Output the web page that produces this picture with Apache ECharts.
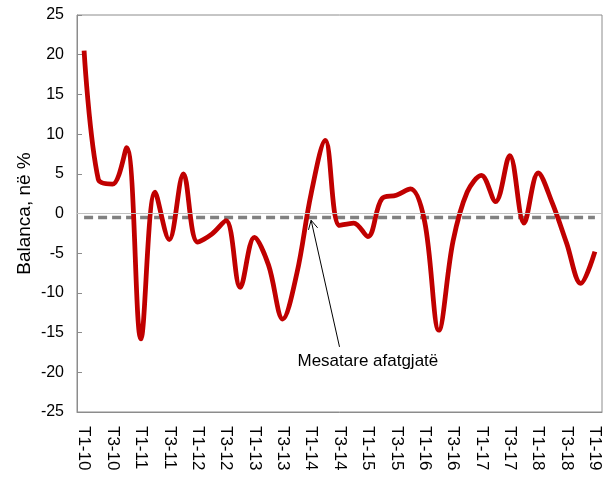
<!DOCTYPE html>
<html>
<head>
<meta charset="utf-8">
<script src="https://cdn.jsdelivr.net/npm/echarts@6/dist/echarts.min.js"></script>
<style>html,body{margin:0;padding:0;background:#fff}#c{width:613px;height:481px}</style>
</head>
<body>
<div id="c"></div>
<script>
var categories = [
  'T1-10','T2-10','T3-10','T4-10',
  'T1-11','T2-11','T3-11','T4-11',
  'T1-12','T2-12','T3-12','T4-12',
  'T1-13','T2-13','T3-13','T4-13',
  'T1-14','T2-14','T3-14','T4-14',
  'T1-15','T2-15','T3-15','T4-15',
  'T1-16','T2-16','T3-16','T4-16',
  'T1-17','T2-17','T3-17','T4-17',
  'T1-18','T2-18','T3-18','T4-18',
  'T1-19'
];
var balanceValues = [
  20.5, 4.3, 3.7, 8.3,
  -15.8, 2.7, -3.3, 5.0,
  -3.6, -2.6, -0.9, -9.3,
  -3.0, -6.5, -13.3, -7.5,
  2.5, 9.2, -1.5, -1.2,
  -2.9, 1.9, 2.3, 3.1,
  -1.0, -14.7, -3.5, 2.7,
  4.8, 1.5, 7.3, -1.2,
  5.1, 1.3, -3.7, -8.8,
  -4.8
];
var longTermAverage = -0.5;
var averageValues = categories.map(function () { return longTermAverage; });
var yTicks = { min: -25, max: 25, interval: 5 };
var annotationText = 'Mesatare afatgjatë';

var chart = echarts.init(document.getElementById('c'));
var FONT = '"Liberation Sans", Arial, sans-serif';
chart.setOption({
  animation: false,
  backgroundColor: '#fff',
  grid: { left: 77, right: 11, top: 15, bottom: 69, show: true, borderColor: '#8c8c8c', borderWidth: 1, containLabel: false },
  xAxis: {
    type: 'category',
    data: categories,
    boundaryGap: true,
    axisLine: { onZero: false, lineStyle: { color: '#8c8c8c', width: 1 } },
    axisTick: { show: false },
    axisLabel: { interval: 1, rotate: -90, margin: 14, color: '#000', fontFamily: FONT, fontSize: 17 },
    splitLine: { show: false }
  },
  yAxis: {
    type: 'value',
    min: yTicks.min, max: yTicks.max, interval: yTicks.interval,
    name: 'Balanca, në %',
    nameLocation: 'middle',
    nameGap: 43,
    nameMoveOverlap: false,
    nameTextStyle: { color: '#000', fontFamily: FONT, fontSize: 19 },
    axisLine: { show: true, lineStyle: { color: '#8c8c8c', width: 1 } },
    axisTick: { show: true, inside: true, length: 5, lineStyle: { color: '#8c8c8c' } },
    axisLabel: { margin: 13, color: '#000', fontFamily: FONT, fontSize: 16 },
    splitLine: { show: false }
  },
  series: [
    {
      type: 'line',
      data: averageValues,
      symbol: 'none',
      lineStyle: { color: '#808080', width: 3.5, type: [9, 5] },
      z: 2,
      markLine: {
        silent: true, symbol: 'none', label: { show: false },
        lineStyle: { color: '#c0c0c0', width: 1, type: 'solid' },
        data: [{ yAxis: 0 }]
      }
    },
    {
      type: 'line',
      data: balanceValues,
      symbol: 'none',
      smooth: 0.35,
      lineStyle: { color: '#c00000', width: 4.8 },
      z: 3
    }
  ]
});

// annotation arrow placed via the chart's own scales
var tip = chart.convertToPixel({ gridIndex: 0 }, [16.41, -0.85]);
var tail = chart.convertToPixel({ gridIndex: 0 }, [18.17, -16.8]);
var dx = tail[0] - tip[0], dy = tail[1] - tip[1];
var len = Math.sqrt(dx * dx + dy * dy);
var ux = dx / len, uy = dy / len;
var ah = 10, ang = 28 * Math.PI / 180;
function rot(x, y, a) { return [x * Math.cos(a) - y * Math.sin(a), x * Math.sin(a) + y * Math.cos(a)]; }
var r1 = rot(ux, uy, ang), r2 = rot(ux, uy, -ang);
var textPos = chart.convertToPixel({ gridIndex: 0 }, [19.55, -18.6]);
chart.setOption({
  graphic: [
    { type: 'line', shape: { x1: tip[0], y1: tip[1], x2: tail[0], y2: tail[1] }, style: { stroke: '#000', lineWidth: 1 }, z: 10 },
    { type: 'polyline', shape: { points: [[tip[0] + r1[0] * ah, tip[1] + r1[1] * ah], tip, [tip[0] + r2[0] * ah, tip[1] + r2[1] * ah]] }, style: { stroke: '#000', lineWidth: 1, fill: null }, z: 10 },
    { type: 'text', x: textPos[0], y: textPos[1], style: { text: annotationText, font: '17px ' + FONT, fill: '#000', align: 'center', verticalAlign: 'middle' }, z: 10 }
  ]
});
</script>
</body>
</html>
